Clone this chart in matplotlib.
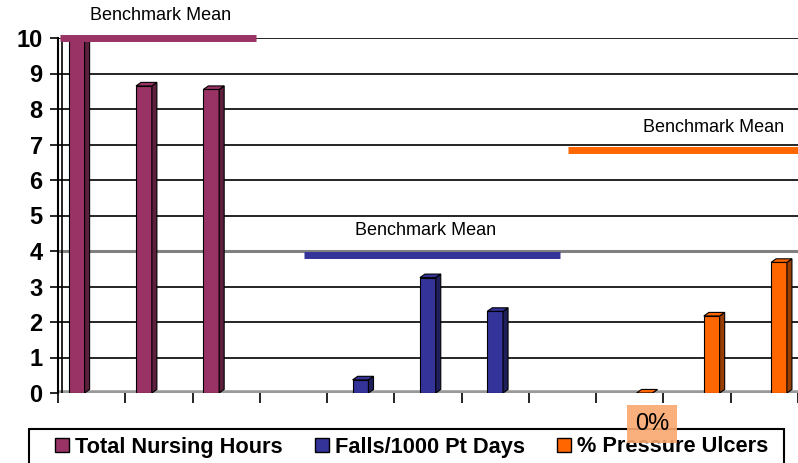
import matplotlib.pyplot as plt
from matplotlib.patches import Polygon, Patch, Rectangle

plt.rcParams["font.family"] = ["Liberation Sans", "DejaVu Sans"]

# 11 category slots, each series fills only its own three
n_slots = 11
series = ["Total Nursing Hours", "Falls/1000 Pt Days", "% Pressure Ulcers"]
nursing = [10.0, 8.65, 8.55, None, None, None, None, None, None, None, None]
falls = [None, None, None, None, 0.37, 3.25, 2.3, None, None, None, None]
ulcers = [None, None, None, None, None, None, None, None, 0.0, 2.17, 3.68]
benchmarks = [10.0, 3.9, 6.85]
bench_spans = [(0.03, 2.94), (3.66, 7.46), (7.58, 11.0)]
colors = ["#993366", "#333399", "#FF6600"]
side_colors = ["#5C1F3D", "#1F1F5C", "#993D00"]

fig = plt.figure(figsize=(7.98, 4.63), dpi=100)
ax = fig.add_axes([58 / 798, 1 - 393 / 463, 1 - 58 / 798, (393 - 38) / 463])

ax.set_xlim(0, n_slots)
ax.set_ylim(0, 10)

for y in range(1, 11):
    if y == 4:
        ax.axhline(y, color="#808080", lw=2.2, zorder=1)
    else:
        ax.axhline(y, color="black", lw=1.2, zorder=1)
# floor
ax.axhline(0, color="#999999", lw=4, zorder=1)

width = 0.235
depth_x = 0.075
depth_y = 0.1
for i, vals in enumerate([nursing, falls, ulcers]):
    for slot, v in enumerate(vals):
        if v is None:
            continue
        left = slot + 0.16 + 0.22 * i
        ax.bar(left, v, width=width, align="edge", color=colors[i],
               edgecolor="black", lw=0.8, zorder=3)
        side = [(left + width, 0), (left + width + depth_x, depth_y),
                (left + width + depth_x, v + depth_y), (left + width, v)]
        top = [(left, v), (left + depth_x, v + depth_y),
               (left + width + depth_x, v + depth_y), (left + width, v)]
        ax.add_patch(Polygon(side, closed=True, facecolor=side_colors[i],
                             edgecolor="black", lw=0.8, zorder=3))
        ax.add_patch(Polygon(top, closed=True, facecolor=colors[i],
                             edgecolor="black", lw=0.8, zorder=3))

for i, b in enumerate(benchmarks):
    x0, x1 = bench_spans[i]
    ax.plot([x0, x1], [b, b], color=colors[i], lw=5, zorder=4,
            solid_capstyle="butt", clip_on=False)
label_pos = [(1.53, 10.64), (5.46, 4.59), (9.75, 7.49)]
for x, y in label_pos:
    ax.text(x, y, "Benchmark Mean", ha="center", va="center", fontsize=13,
            zorder=5, clip_on=False)

for s in ["top", "right", "bottom"]:
    ax.spines[s].set_visible(False)
ax.spines["left"].set_linewidth(1.5)
ax.axvline(0.06, color="black", lw=1.2, zorder=2)

ax.set_yticks(range(0, 11))
ax.set_yticklabels([str(y) for y in range(0, 11)], fontsize=17,
                   fontweight="bold")
ax.tick_params(axis="y", length=6, width=1.2, pad=5)
ax.set_xticks(range(0, n_slots + 1))
ax.set_xticklabels([])
ax.tick_params(axis="x", length=7, width=1.2, direction="out", pad=2)

# legend frame runs off the bottom of the picture
fig.patches.append(Rectangle((29 / 798, -0.05), (784 - 29) / 798,
                             1 - 429 / 463 + 0.05, transform=fig.transFigure,
                             facecolor="white", edgecolor="black", lw=1.5,
                             zorder=4))
handles = [Patch(facecolor=c, edgecolor="black", lw=1) for c in colors]
fig.legend(handles, series, loc="center left",
           bbox_to_anchor=(55 / 798, 1 - 447 / 463), ncol=3,
           prop={"weight": "bold", "size": 15.7}, frameon=False,
           handlelength=0.65, handleheight=0.65, handletextpad=0.25,
           columnspacing=1.5, borderaxespad=0, borderpad=0)

fig.text(652 / 798, 1 - 424 / 463, "0%", ha="center", va="center",
         fontsize=17, zorder=10,
         bbox=dict(boxstyle="square,pad=0.35", facecolor="#F9A86E",
                   edgecolor="none", alpha=0.9))

fig.savefig("out.png", dpi=100)
